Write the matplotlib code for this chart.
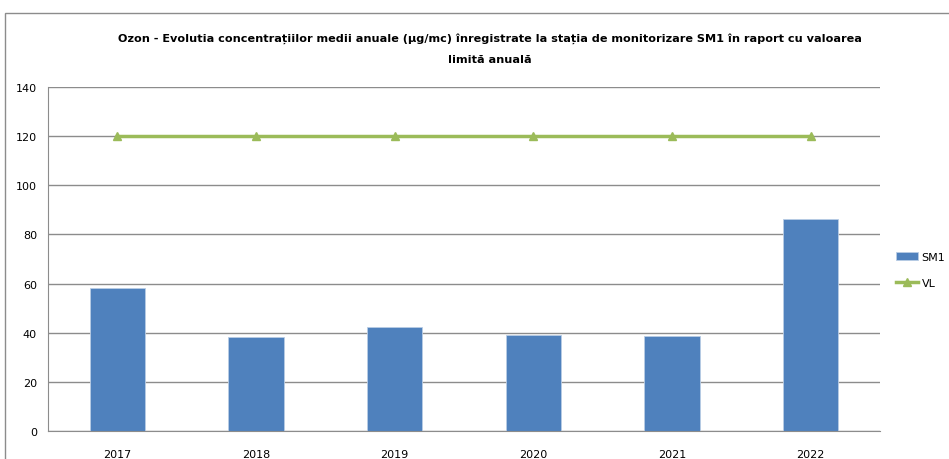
import matplotlib.pyplot as plt
from matplotlib.patches import Rectangle

ani = ['2017', '2018', '2019', '2020', '2021', '2022']
sm1 = [58.0, 38.1, 42.2, 39.0, 38.6, 86.4]
vl = [120, 120, 120, 120, 120, 120]
yticks = [0, 20, 40, 60, 80, 100, 120, 140]

plt.rcParams['font.family'] = ['DejaVu Sans']

fig = plt.figure(figsize=(9.49, 4.60), dpi=100)
ax = fig.add_axes([48 / 949, 1 - 432 / 460, (880 - 48) / 949, (432 - 88) / 460])

# chenar exterior
fig.patches.append(Rectangle((5 / 949, -0.1), 1.1, 1 - 14 / 460 + 0.1, transform=fig.transFigure,
                             fill=False, edgecolor='#8c8c8c', linewidth=1))

x = list(range(len(ani)))
bare = ax.bar(x, sm1, width=0.4, color='#4f81bd', edgecolor='#b9cde5', linewidth=0.6, label='SM1', zorder=2)
linie, = ax.plot(x, vl, color='#9bbb59', linewidth=2.5, marker='^', markersize=6, label='VL', zorder=3)

ax.set_xlim(-0.5, len(ani) - 0.5)
ax.set_ylim(0, 140)
ax.set_yticks(yticks)
ax.set_xticks(x)
ax.set_xticklabels(ani)
ax.yaxis.grid(True, color='#8c8c8c', linewidth=1, zorder=0)
ax.set_axisbelow(True)
ax.tick_params(axis='y', length=0, labelsize=8, pad=8)
ax.tick_params(axis='x', length=0, labelsize=8, pad=13)
for s in ['top', 'right']:
    ax.spines[s].set_visible(False)
ax.spines['left'].set_color('#8c8c8c')
ax.spines['bottom'].set_color('#8c8c8c')

fig.text(490 / 949, 1 - 49 / 460,
         'Ozon - Evolutia concentrațiilor medii anuale (µg/mc) înregistrate la stația de monitorizare SM1 în raport cu valoarea\nlimită anuală',
         ha='center', va='center', fontsize=8.1, fontweight='bold', linespacing=2.3)

ax.legend([bare, linie], ['SM1', 'VL'], loc='center left', bbox_to_anchor=(886 / 949, 1 - 271 / 460),
          bbox_transform=fig.transFigure, frameon=False, fontsize=8, handlelength=2.0,
          handletextpad=0.3, labelspacing=1.4)

fig.savefig('out.png', dpi=100)
